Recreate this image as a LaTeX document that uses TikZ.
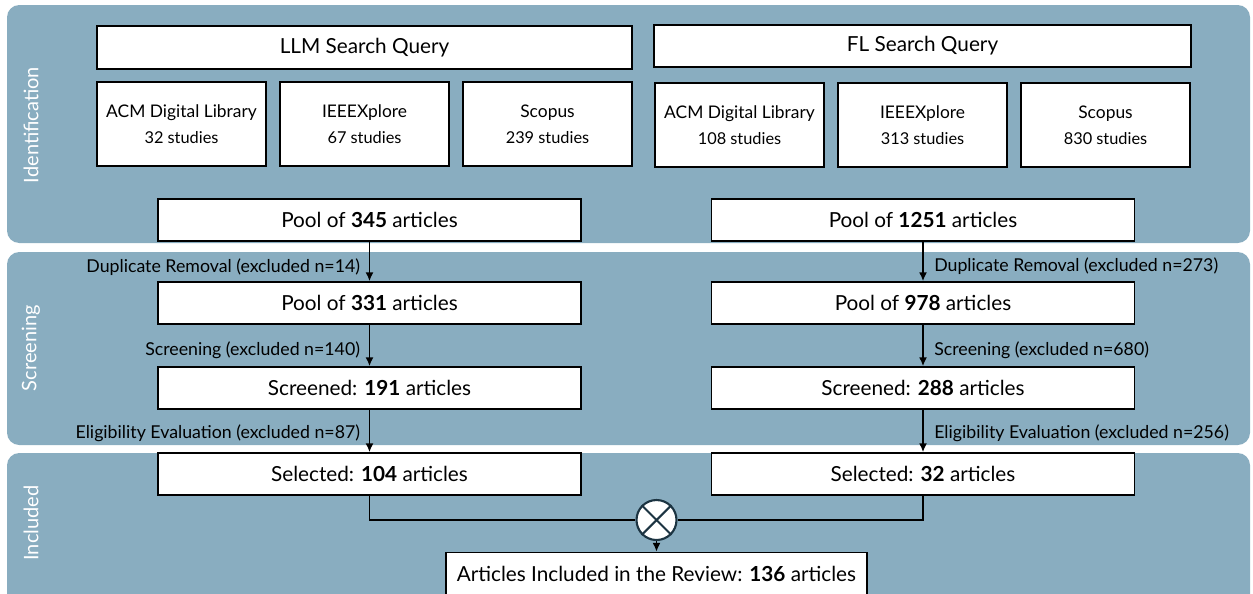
\documentclass[tikz,border=0pt]{standalone}
\usepackage{fontspec}
\setmainfont{Lato}
\usetikzlibrary{arrows.meta, calc}
\definecolor{bandblue}{RGB}{137,173,192}
\definecolor{ringdark}{RGB}{28,52,66}

\begin{document}
\begin{tikzpicture}[x=0.02cm, y=-0.02cm,
  box/.style={draw, line width=1pt, fill=white, inner sep=0pt, font=\fontsize{11.8}{13}\selectfont},
  src/.style={box, minimum width=3.38cm, minimum height=1.68cm, align=center, font=\fontsize{9.9}{12}\selectfont},
  pool/.style={box, minimum width=8.46cm, minimum height=0.84cm},
  note/.style={font=\fontsize{10.1}{12}\selectfont, inner sep=0pt},
  band/.style={rotate=90, text=white, font=\fontsize{11.4}{13}\selectfont},
  flow/.style={line width=0.8pt, -{Latex[length=5pt, width=4.5pt]}}]
\useasboundingbox (0,0) rectangle (1253,593);

\fill[bandblue, rounded corners=7pt] (7,5) rectangle (1250,243);
\fill[bandblue, rounded corners=7pt] (7,252) rectangle (1250,445);
\fill[bandblue, rounded corners=7pt] (7,453) rectangle (1250,610);

\node[band] (B1) at (31,125) {Identification};
\node[band] (B2) at (31,348) {Screening};
\node[band] (B3) at (31,523) {Included};

\node[box, minimum width=10.7cm, minimum height=0.86cm] (LQ) at (364.5,47.5) {LLM Search Query};
\node[box, minimum width=10.74cm, minimum height=0.84cm] (FQ) at (922.5,46) {FL Search Query};

\newcommand{\studies}[2]{#1\\[3pt]{\fontsize{9.3}{11}\selectfont #2 studies}}
\node[src] (L1) at (181.5,124) {\studies{ACM Digital Library}{32}};
\node[src] (L2) at (364.5,124) {\studies{IEEEXplore}{67}};
\node[src] (L3) at (547.5,124) {\studies{Scopus}{239}};
\node[src] (F1) at (739.5,125) {\studies{ACM Digital Library}{108}};
\node[src] (F2) at (922.5,125) {\studies{IEEEXplore}{313}};
\node[src] (F3) at (1105.5,125) {\studies{Scopus}{830}};

\node[pool] (LP1) at (369.5,220) {Pool of \textbf{345} articles};
\node[pool] (LP2) at (369.5,303) {Pool of \textbf{331} articles};
\node[pool] (LP3) at (369.5,388) {Screened: \textbf{191} articles};
\node[pool] (LP4) at (369.5,474) {Selected: \textbf{104} articles};
\node[pool] (FP1) at (923,220) {Pool of \textbf{1251} articles};
\node[pool] (FP2) at (923,303) {Pool of \textbf{978} articles};
\node[pool] (FP3) at (923,388) {Screened: \textbf{288} articles};
\node[pool] (FP4) at (923,474) {Selected: \textbf{32} articles};

\node[draw=ringdark, line width=1.2pt, fill=white, circle, minimum size=0.8cm, inner sep=0pt] (X) at (656.5,520) {};
\draw[ringdark, line width=1.2pt] (X.north west) -- (X.south east) (X.north east) -- (X.south west);
\node[box, minimum width=8.42cm, minimum height=0.86cm] (R) at (656.5,574) {Articles Included in the Review: \textbf{136} articles};

\begin{scope}[every node/.style={note}]
    \draw[flow] (LP1) -- node[pos=0.65, anchor=east, xshift=-5pt] {Duplicate Removal (excluded n=14)} (LP2);
    \draw[flow] (LP2) -- node[pos=0.62, anchor=east, xshift=-5pt] {Screening (excluded n=140)} (LP3);
    \draw[flow] (LP3) -- node[pos=0.55, anchor=east, xshift=-5pt] {Eligibility Evaluation (excluded n=87)} (LP4);
    \draw[flow] (FP1) -- node[pos=0.62, anchor=west, xshift=6pt] {Duplicate Removal (excluded n=273)} (FP2);
    \draw[flow] (FP2) -- node[pos=0.62, anchor=west, xshift=6pt] {Screening (excluded n=680)} (FP3);
    \draw[flow] (FP3) -- node[pos=0.55, anchor=west, xshift=6pt] {Eligibility Evaluation (excluded n=256)} (FP4);
\end{scope}

\draw[line width=0.8pt] (LP4.south) |- (X.west);
\draw[line width=0.8pt] (FP4.south) |- (X.east);
\draw[flow] (X) -- (R);
\end{tikzpicture}
\end{document}
